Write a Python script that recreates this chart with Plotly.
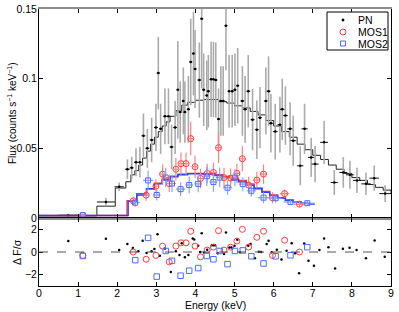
import plotly.graph_objects as go

# ---------------- PN spectrum ----------------
pn_e = [0.75, 1.71, 2.05, 2.26, 2.37, 2.48, 2.58, 2.67, 2.77, 2.88, 2.99, 3.05, 3.11, 3.22, 3.31,
        3.39, 3.48, 3.55, 3.61, 3.69, 3.73, 3.82, 3.88, 3.95, 3.99, 4.10, 4.16, 4.21, 4.29, 4.33,
        4.40, 4.46, 4.52, 4.59, 4.65, 4.71, 4.78, 4.86, 4.94, 5.01, 5.08, 5.20, 5.27, 5.35, 5.46,
        5.57, 5.65, 5.80, 5.87, 5.93, 6.04, 6.16, 6.22, 6.30, 6.42, 6.50, 6.68, 6.79, 6.96, 7.06,
        7.29, 7.55, 7.78, 7.95, 8.13, 8.36, 8.57, 8.85]
pn_f = [0.002, 0.0115, 0.0224, 0.035, 0.036, 0.040, 0.040, 0.059, 0.050, 0.056, 0.065, 0.104, 0.064, 0.073, 0.073,
        0.051, 0.065, 0.092, 0.076, 0.084, 0.076, 0.078, 0.112, 0.118, 0.107, 0.099, 0.143, 0.092, 0.088, 0.091,
        0.0995, 0.0995, 0.099, 0.071, 0.084, 0.084, 0.138, 0.091, 0.091, 0.092, 0.095, 0.084, 0.078, 0.091, 0.0706,
        0.0634, 0.072, 0.084, 0.091, 0.068, 0.062, 0.067, 0.078, 0.0735, 0.064, 0.0555, 0.0375, 0.064, 0.0435, 0.0387,
        0.0543, 0.0255, 0.0327, 0.031, 0.027, 0.0245, 0.0286, 0.0175]
pn_err = [0.001, 0.003, 0.003, 0.007, 0.008, 0.010, 0.011, 0.016, 0.014, 0.016, 0.017, 0.026, 0.018, 0.020, 0.020,
          0.016, 0.019, 0.035, 0.022, 0.024, 0.022, 0.024, 0.031, 0.030, 0.028, 0.027, 0.050, 0.026, 0.025, 0.026,
          0.027, 0.027, 0.027, 0.022, 0.025, 0.025, 0.032, 0.026, 0.026, 0.026, 0.027, 0.025, 0.024, 0.026, 0.022,
          0.021, 0.022, 0.024, 0.025, 0.021, 0.020, 0.020, 0.022, 0.021, 0.019, 0.018, 0.014, 0.018, 0.014, 0.013,
          0.0155, 0.009, 0.011, 0.010, 0.009, 0.008, 0.009, 0.006]
pn_xw = [0.25, 0.23, 0.12, 0.06, 0.05, 0.05, 0.05, 0.05, 0.05, 0.05, 0.05, 0.04, 0.04, 0.05, 0.05,
         0.05, 0.05, 0.04, 0.04, 0.04, 0.04, 0.04, 0.04, 0.04, 0.04, 0.05, 0.04, 0.04, 0.04, 0.04,
         0.04, 0.04, 0.04, 0.04, 0.04, 0.04, 0.04, 0.04, 0.04, 0.04, 0.04, 0.05, 0.05, 0.05, 0.05,
         0.05, 0.05, 0.05, 0.05, 0.05, 0.06, 0.06, 0.06, 0.06, 0.07, 0.07, 0.08, 0.08, 0.08, 0.09,
         0.10, 0.09, 0.10, 0.10, 0.10, 0.12, 0.12, 0.15]

pn_model_e = [0.0, 1.48, 1.95, 2.22, 2.35, 2.45, 2.55, 2.65, 2.75, 2.85, 2.95, 3.05, 3.15, 3.25, 3.35,
              3.5, 3.65, 3.8, 4.0, 4.2, 4.4, 4.6, 4.8, 5.0, 5.2, 5.4, 5.6, 5.8, 6.0, 6.2, 6.4, 6.6,
              6.8, 7.0, 7.2, 7.4, 7.6, 7.8, 8.0, 8.2, 8.4, 8.6, 8.8, 9.0]
pn_model_f = [0.0015, 0.0085, 0.0215, 0.026, 0.031, 0.034, 0.038, 0.043, 0.048, 0.053, 0.058, 0.062, 0.066,
              0.069, 0.073, 0.077, 0.081, 0.083, 0.0845, 0.085, 0.085, 0.0835, 0.0825, 0.0805, 0.079, 0.0765,
              0.074, 0.070, 0.066, 0.062, 0.058, 0.053, 0.049, 0.045, 0.042, 0.038, 0.035, 0.032, 0.029,
              0.027, 0.024, 0.022, 0.020, 0.018]

# ---------------- MOS1 ----------------
mos1_e = [1.12, 2.41, 2.74, 2.99, 3.16, 3.33, 3.50, 3.63, 3.76, 3.88, 3.99, 4.13, 4.30, 4.46, 4.59,
          4.73, 4.90, 5.06, 5.20, 5.36, 5.57, 5.74, 5.97, 6.28, 6.66]
mos1_f = [0.002, 0.0123, 0.0164, 0.0228, 0.0315, 0.0247, 0.035, 0.039, 0.039, 0.057, 0.0368, 0.0284, 0.032,
          0.0327, 0.0505, 0.029, 0.0286, 0.032, 0.0425, 0.0236, 0.0272, 0.0315, 0.0145, 0.0175, 0.0099]
mos1_err = [0.001, 0.003, 0.004, 0.005, 0.007, 0.006, 0.008, 0.008, 0.008, 0.012, 0.008, 0.007, 0.007,
            0.007, 0.011, 0.007, 0.007, 0.007, 0.009, 0.006, 0.006, 0.007, 0.004, 0.003, 0.002]
mos1_xw = [0.08, 0.10, 0.08, 0.07, 0.07, 0.07, 0.06, 0.06, 0.06, 0.06, 0.06, 0.07, 0.07, 0.07, 0.07,
           0.07, 0.08, 0.08, 0.08, 0.08, 0.09, 0.09, 0.10, 0.12, 0.15]
mos1_res = [-0.30, 0.00, -0.64, -0.30, 0.52, -0.87, 0.52, 0.81, 0.81, 1.83, 0.52, -0.43, 0.17, 0.43, 1.88,
            0.17, 0.43, 0.96, 2.00, 0.43, 1.30, 1.83, -0.30, 1.04, 0.00]
mos1_model_e = [0.0, 2.25, 2.5, 2.75, 2.95, 3.15, 3.35, 3.55, 3.8, 4.2, 4.5, 4.7, 4.9, 5.1, 5.3, 5.5,
                5.7, 5.9, 6.1, 6.3, 6.5, 6.7, 6.85]
mos1_model_f = [0.0018, 0.0125, 0.0175, 0.021, 0.025, 0.028, 0.030, 0.0315, 0.032, 0.0318, 0.031, 0.0298,
                0.0285, 0.027, 0.0245, 0.0215, 0.019, 0.0165, 0.0145, 0.0128, 0.0115, 0.0105, 0.0105]

# ---------------- MOS2 ----------------
mos2_e = [1.12, 2.46, 2.79, 3.01, 3.24, 3.40, 3.62, 3.84, 4.07, 4.29, 4.46, 4.62, 4.82, 5.01, 5.21,
          5.43, 5.74, 6.05, 6.43, 6.86]
mos2_f = [0.002, 0.011, 0.027, 0.0165, 0.029, 0.0247, 0.0207, 0.0237, 0.0245, 0.030, 0.0258, 0.029, 0.0217,
          0.029, 0.0243, 0.0195, 0.0146, 0.0142, 0.0115, 0.0106]
mos2_err = [0.001, 0.003, 0.007, 0.004, 0.007, 0.006, 0.005, 0.006, 0.006, 0.007, 0.007, 0.007, 0.005,
            0.006, 0.005, 0.004, 0.004, 0.003, 0.002, 0.002]
mos2_xw = [0.08, 0.12, 0.13, 0.10, 0.10, 0.10, 0.12, 0.10, 0.10, 0.10, 0.10, 0.10, 0.12, 0.10, 0.10,
           0.12, 0.15, 0.15, 0.18, 0.19]
mos2_res = [-0.35, -0.72, 1.25, -2.17, 0.09, -0.78, -2.09, -1.65, -1.42, -0.35, -0.64, 0.09, -1.07, 0.09,
            0.14, -0.38, -1.01, -0.38, -0.29, 0.43]
mos2_model_e = [0.0, 2.28, 2.5, 2.75, 2.95, 3.15, 3.35, 3.55, 3.8, 4.2, 4.5, 4.7, 4.9, 5.1, 5.3, 5.5,
                5.7, 5.9, 6.1, 6.3, 6.5, 6.7, 6.9, 7.05]
mos2_model_f = [0.0018, 0.012, 0.0165, 0.021, 0.0245, 0.0275, 0.0295, 0.031, 0.0318, 0.0315, 0.0305,
                0.029, 0.0275, 0.026, 0.0235, 0.021, 0.0185, 0.0162, 0.0143, 0.0127, 0.0115, 0.0106,
                0.0100, 0.0100]

# ---------------- PN residuals ----------------
pn_res_e = [0.75, 1.71, 2.05, 2.26, 2.40, 2.54, 2.65, 2.75, 2.88, 2.95, 3.03, 3.09, 3.22, 3.37, 3.50,
            3.59, 3.65, 3.73, 3.82, 3.93, 3.97, 4.07, 4.12, 4.16, 4.22, 4.30, 4.42, 4.46, 4.50, 4.57,
            4.73, 4.78, 4.87, 4.92, 5.00, 5.07, 5.14, 5.35, 5.41, 5.52, 5.62, 5.68, 5.82, 5.87, 5.95,
            6.08, 6.20, 6.33, 6.46, 6.55, 6.65, 6.78, 6.89, 7.03, 7.17, 7.29, 7.40, 7.57, 7.77, 7.94,
            8.12, 8.36, 8.58, 8.84]
pn_res = [0.96, 1.16, 0.17, 0.70, 0.35, 0.06, 0.99, -0.09, 0.06, 0.26, 1.57, -0.32, 0.30, -1.77, 0.06,
          -0.26, 0.78, -0.46, -0.26, 1.20, 1.10, 0.55, 0.00, 1.65, -0.05, 0.20, 0.60, 0.60, 0.60, -0.10,
          -0.17, 1.71, 0.40, 0.40, 0.55, 1.07, -0.03, 0.55, 0.70, -0.55, 0.03, 0.00, 0.70, 0.99, -0.03,
          0.20, -0.67, 0.12, 0.78, -0.10, -1.88, 0.76, -0.78, -1.22, 0.17, 1.19, 0.43, -1.45, 0.29, 0.37,
          0.17, -0.55, 1.02, -0.43]

legend_names = ["PN", "MOS1", "MOS2"]

RED = "#ff3b3b"
RED_ERR = "#ff8080"
BLUE = "#4d6bff"
BLUE_ERR = "#8aa0ff"
FONT = "Liberation Sans, Arial, sans-serif"

# page geometry (pixels)
W, H = 399, 312
ML, MR, MT, MB = 39, 8, 9, 26
PW, PH = W - ML - MR, H - MT - MB
split = (H - MB - 218) / PH  # residual panel height fraction


def px_x(px):
    return (px - ML) / PW


def px_y(py):
    return (H - MB - py) / PH


fig = go.Figure()

fig.add_trace(go.Scatter(x=pn_model_e, y=pn_model_f, mode="lines",
                         line=dict(color="#222222", width=1, shape="hv"),
                         showlegend=False, hoverinfo="skip", xaxis="x", yaxis="y"))

fig.add_trace(go.Scatter(
    x=pn_e, y=pn_f, mode="markers", name=legend_names[0], showlegend=False,
    marker=dict(color="black", size=2.5, symbol="circle"),
    error_y=dict(type="data", array=pn_err, color="#ababab", thickness=1.6, width=0),
    error_x=dict(type="data", array=pn_xw, color="#111111", thickness=1, width=0),
    xaxis="x", yaxis="y"))

fig.add_trace(go.Scatter(x=mos1_model_e, y=mos1_model_f, mode="lines",
                         line=dict(color=RED, width=1.4, shape="hv"),
                         showlegend=False, hoverinfo="skip", xaxis="x", yaxis="y"))
fig.add_trace(go.Scatter(x=mos2_model_e, y=mos2_model_f, mode="lines",
                         line=dict(color="#2b3cff", width=1.4, shape="hv"),
                         showlegend=False, hoverinfo="skip", xaxis="x", yaxis="y"))

fig.add_trace(go.Scatter(
    x=mos1_e, y=mos1_f, mode="markers", name=legend_names[1], showlegend=False,
    marker=dict(color=RED, size=6, symbol="circle-open", line=dict(color=RED, width=1)),
    error_y=dict(type="data", array=mos1_err, color=RED_ERR, thickness=1.2, width=0),
    error_x=dict(type="data", array=mos1_xw, color=RED_ERR, thickness=1.2, width=0),
    xaxis="x", yaxis="y"))

fig.add_trace(go.Scatter(
    x=mos2_e, y=mos2_f, mode="markers", name=legend_names[2], showlegend=False,
    marker=dict(color=BLUE, size=5, symbol="square-open", line=dict(color=BLUE, width=1)),
    error_y=dict(type="data", array=mos2_err, color=BLUE_ERR, thickness=1.2, width=0),
    error_x=dict(type="data", array=mos2_xw, color=BLUE_ERR, thickness=1.2, width=0),
    xaxis="x", yaxis="y"))

fig.add_trace(go.Scatter(x=pn_res_e, y=pn_res, mode="markers", showlegend=False,
                         marker=dict(color="black", size=2.5), xaxis="x2", yaxis="y2"))
fig.add_trace(go.Scatter(x=mos1_e, y=mos1_res, mode="markers", showlegend=False,
                         marker=dict(size=6, symbol="circle-open", color=RED, line=dict(color=RED, width=1)),
                         xaxis="x2", yaxis="y2"))
fig.add_trace(go.Scatter(x=mos2_e, y=mos2_res, mode="markers", showlegend=False,
                         marker=dict(size=5.5, symbol="square-open", color=BLUE, line=dict(color=BLUE, width=1)),
                         xaxis="x2", yaxis="y2"))

axis_common = dict(ticks="inside", ticklen=4, tickcolor="black", showgrid=False, zeroline=False,
                   automargin=False, tickfont=dict(size=10.5, family=FONT, color="black"))

fig.update_layout(
    width=W, height=H,
    margin=dict(l=ML, r=MR, t=MT, b=MB, autoexpand=False),
    paper_bgcolor="white", plot_bgcolor="white",
    font=dict(family=FONT, size=10, color="black"),
    showlegend=False,
    xaxis=dict(domain=[0, 1], range=[0, 9], anchor="y", showticklabels=False, dtick=1,
               showline=True, linecolor="#8c8c8c", linewidth=2, mirror="ticks", **axis_common),
    yaxis=dict(domain=[split, 1], range=[0, 0.15], anchor="x", tickvals=[0, 0.05, 0.1, 0.15],
               ticktext=["0", "0.05", "0.1", "0.15"], showline=True, linecolor="black", linewidth=1,
               mirror="ticks", ticklabelstandoff=-1, **axis_common),
    xaxis2=dict(domain=[0, 1], range=[0, 9], anchor="y2", dtick=1, showline=True, linecolor="black",
                linewidth=1, mirror="ticks", ticklabelstandoff=-3, **axis_common),
    yaxis2=dict(domain=[0, split], range=[-3, 3], anchor="x2", tickvals=[-2, 0, 2],
                ticktext=["\u22122", "0", "2"], showline=True, linecolor="black", linewidth=1,
                mirror="ticks", ticklabelstandoff=-1, **axis_common),
)

# zero reference line in residual panel
fig.add_shape(type="line", xref="x2 domain", yref="y2", x0=0, x1=1, y0=0, y1=0,
              line=dict(color="#555555", width=1, dash="dash"))

# axis titles
fig.add_annotation(text="Flux (counts s<sup>\u22121</sup> keV<sup>\u22121</sup>)", xref="paper", yref="paper",
                   x=px_x(12), y=px_y(113), textangle=-90, showarrow=False, font=dict(size=10),
                   xanchor="center", yanchor="middle")
fig.add_annotation(text="\u0394 F/\u03c3", xref="paper", yref="paper",
                   x=px_x(17), y=px_y(252), textangle=-90, showarrow=False, font=dict(size=10.5),
                   xanchor="center", yanchor="middle")
fig.add_annotation(text="Energy (keV)", xref="paper", yref="paper",
                   x=0.5, y=px_y(305), showarrow=False, font=dict(size=10.5),
                   xanchor="center", yanchor="middle")

# compact legend box (drawn manually so the rows are as tight as the reference)
fig.add_shape(type="rect", xref="paper", yref="paper", x0=px_x(327), x1=px_x(388),
              y0=px_y(50), y1=px_y(12), line=dict(color="black", width=1), fillcolor="white", layer="above")
leg_rows = [20, 32, 43.5]
fig.add_shape(type="circle", xref="paper", yref="paper", xsizemode="pixel", ysizemode="pixel",
              xanchor=px_x(343), yanchor=px_y(leg_rows[0]), x0=-1.2, x1=1.2, y0=-1.2, y1=1.2,
              fillcolor="black", line=dict(color="black", width=0.5), layer="above")
fig.add_shape(type="circle", xref="paper", yref="paper", xsizemode="pixel", ysizemode="pixel",
              xanchor=px_x(343), yanchor=px_y(leg_rows[1]), x0=-3, x1=3, y0=-3, y1=3,
              line=dict(color=RED, width=1), layer="above")
fig.add_shape(type="rect", xref="paper", yref="paper", xsizemode="pixel", ysizemode="pixel",
              xanchor=px_x(343), yanchor=px_y(leg_rows[2]), x0=-2.5, x1=2.5, y0=-2.5, y1=2.5,
              line=dict(color=BLUE, width=1), layer="above")
for name, row in zip(legend_names, leg_rows):
    fig.add_annotation(text=name, xref="paper", yref="paper", x=px_x(356), y=px_y(row),
                       xanchor="left", yanchor="middle", showarrow=False, font=dict(size=10.5))

fig.write_html("out.html", config={"displayModeBar": False},
               post_script="document.body.style.margin='0';document.body.style.overflow='hidden';")
